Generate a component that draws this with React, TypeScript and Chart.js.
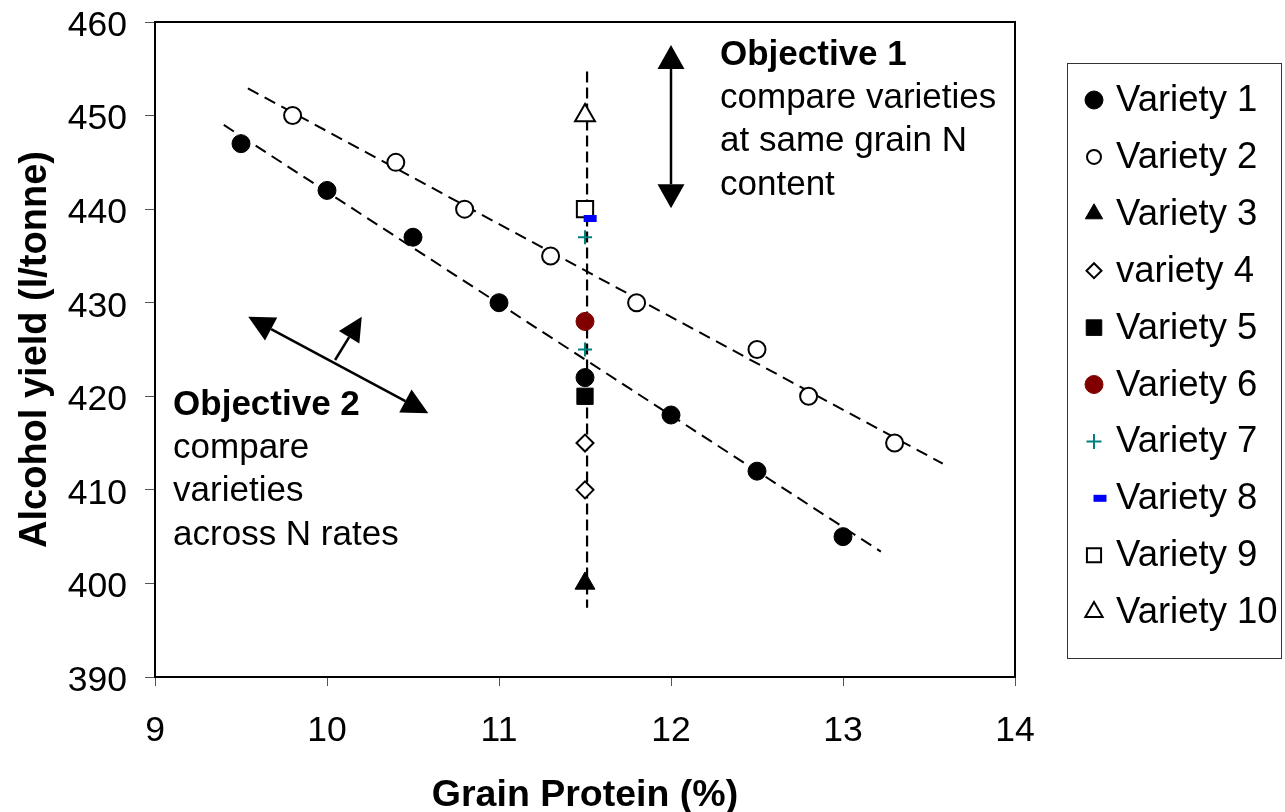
import React, { useEffect, useRef } from 'react';
import { Chart, registerables } from 'chart.js';
import { drawPoint } from 'chart.js/helpers';

Chart.register(...registerables);

const FONT = "'Liberation Sans', Arial, Helvetica, sans-serif";

// ---- data ----
const variety1X = [9.5, 10, 10.5, 11, 11.5, 12, 12.5, 13];
const variety1Y = [447, 442, 437, 430, 422, 418, 412, 405];
const variety2X = [9.8, 10.4, 10.8, 11.3, 11.8, 12.5, 12.8, 13.3];
const variety2Y = [450, 445, 440, 435, 430, 425, 420, 415];
const variety3X = [11.5];
const variety3Y = [400];
const variety4X = [11.5, 11.5];
const variety4Y = [415, 410];
const variety5X = [11.5];
const variety5Y = [420];
const variety6X = [11.5];
const variety6Y = [428];
const variety7X = [11.5, 11.5];
const variety7Y = [437, 425];
const variety8X = [11.53];
const variety8Y = [439];
const variety9X = [11.5];
const variety9Y = [440];
const variety10X = [11.5];
const variety10Y = [450];

const trend1X = [9.4, 13.22];
const trend1Y = [449.0, 403.4];
const trend2X = [9.54, 13.58];
const trend2Y = [452.9, 412.8];
const sameNX = [11.512, 11.512];
const sameNY = [454.7, 397.4];

const xTicks = [9, 10, 11, 12, 13, 14];
const yTicks = [390, 400, 410, 420, 430, 440, 450, 460];

const legendLabels = [
  'Variety 1', 'Variety 2', 'Variety 3', 'variety 4', 'Variety 5',
  'Variety 6', 'Variety 7', 'Variety 8', 'Variety 9', 'Variety 10',
];

const objective1Lines = ['Objective 1', 'compare varieties', 'at same grain N', 'content'];
const objective2Lines = ['Objective 2', 'compare', 'varieties', 'across N rates'];

// annotation anchors in data units
const obj1Arrow = { x1: 12.0, y1: 457.55, x2: 12.0, y2: 440.1 };
const obj2Arrow = { x1: 9.542, y1: 428.5, x2: 10.589, y2: 418.18 };
const obj2SmallArrow = { x1: 10.047, y1: 423.88, x2: 10.202, y2: 428.5 };
const obj1Text = { x: 12.285, y: 456.47 };
const obj2Text = { x: 9.105, y: 419.07 };

const zip = (xs: number[], ys: number[]) => xs.map((x, i) => ({ x, y: ys[i] }));

type PS = { style: string; radius: number; legendRadius: number; fill: string; stroke: string; width: number };
const styles: PS[] = [
  { style: 'circle', radius: 9, legendRadius: 9, fill: '#000', stroke: '#000', width: 1 },
  { style: 'circle', radius: 8.5, legendRadius: 7, fill: '#fff', stroke: '#000', width: 2 },
  { style: 'triangle', radius: 11.5, legendRadius: 10, fill: '#000', stroke: '#000', width: 1 },
  { style: 'rectRot', radius: 8.5, legendRadius: 7.5, fill: '#fff', stroke: '#000', width: 2 },
  { style: 'rect', radius: 11.5, legendRadius: 11, fill: '#000', stroke: '#000', width: 1 },
  { style: 'circle', radius: 9, legendRadius: 9, fill: '#800000', stroke: '#800000', width: 1 },
  { style: 'cross', radius: 7, legendRadius: 7.5, fill: '#008080', stroke: '#008080', width: 2 },
  { style: 'line', radius: 6.5, legendRadius: 6.5, fill: '#0000ff', stroke: '#0000ff', width: 7 },
  { style: 'rect', radius: 11.5, legendRadius: 10, fill: '#fff', stroke: '#000', width: 2 },
  { style: 'triangle', radius: 11.5, legendRadius: 10, fill: '#fff', stroke: '#000', width: 2 },
];

const seriesData = [
  zip(variety1X, variety1Y), zip(variety2X, variety2Y), zip(variety3X, variety3Y),
  zip(variety4X, variety4Y), zip(variety5X, variety5Y), zip(variety6X, variety6Y),
  zip(variety7X, variety7Y), zip(variety8X, variety8Y), zip(variety9X, variety9Y),
  zip(variety10X, variety10Y),
];

function arrowHead(ctx: CanvasRenderingContext2D, tx: number, ty: number, fx: number, fy: number, len: number, w: number) {
  const a = Math.atan2(ty - fy, tx - fx);
  const bx = tx - Math.cos(a) * len;
  const by = ty - Math.sin(a) * len;
  const px = -Math.sin(a) * w / 2;
  const py = Math.cos(a) * w / 2;
  ctx.beginPath();
  ctx.moveTo(tx, ty);
  ctx.lineTo(bx + px, by + py);
  ctx.lineTo(bx - px, by - py);
  ctx.closePath();
  ctx.fill();
  return { bx, by };
}

function drawArrow(ctx: CanvasRenderingContext2D, x1: number, y1: number, x2: number, y2: number, both: boolean, len = 24, w = 26) {
  ctx.save();
  ctx.fillStyle = '#000';
  ctx.strokeStyle = '#000';
  ctx.lineWidth = 2.5;
  const end = arrowHead(ctx, x2, y2, x1, y1, len, w);
  let sx = x1, sy = y1;
  if (both) {
    const s = arrowHead(ctx, x1, y1, x2, y2, len, w);
    sx = s.bx; sy = s.by;
  }
  ctx.beginPath();
  ctx.moveTo(sx, sy);
  ctx.lineTo(end.bx, end.by);
  ctx.stroke();
  ctx.restore();
}

const overlayPlugin = {
  id: 'overlay',
  afterDraw(chart: any) {
    const { ctx, chartArea, scales } = chart;
    const xs = scales.x, ys = scales.y;
    // top & right frame
    ctx.save();
    ctx.strokeStyle = '#000';
    ctx.lineWidth = 2;
    ctx.beginPath();
    ctx.moveTo(chartArea.left, chartArea.top);
    ctx.lineTo(chartArea.right, chartArea.top);
    ctx.lineTo(chartArea.right, chartArea.bottom);
    ctx.stroke();
    ctx.restore();

    // arrows
    const P = (x: number, y: number) => [xs.getPixelForValue(x), ys.getPixelForValue(y)];
    let [a, b] = P(obj1Arrow.x1, obj1Arrow.y1);
    let [c, d] = P(obj1Arrow.x2, obj1Arrow.y2);
    drawArrow(ctx, a, b, c, d, true, 24, 27);
    [a, b] = P(obj2Arrow.x1, obj2Arrow.y1);
    [c, d] = P(obj2Arrow.x2, obj2Arrow.y2);
    drawArrow(ctx, a, b, c, d, true, 26, 26);
    [a, b] = P(obj2SmallArrow.x1, obj2SmallArrow.y1);
    [c, d] = P(obj2SmallArrow.x2, obj2SmallArrow.y2);
    drawArrow(ctx, a, b, c, d, false, 24, 24);

    // texts
    const lineH = 43.3;
    const drawLines = (lines: string[], x: number, y: number) => {
      const [px, py] = P(x, y);
      ctx.save();
      ctx.fillStyle = '#000';
      ctx.textAlign = 'left';
      ctx.textBaseline = 'middle';
      lines.forEach((t, i) => {
        ctx.font = `${i === 0 ? 'bold ' : ''}35px ${FONT}`;
        ctx.fillText(t, px, py + i * lineH);
      });
      ctx.restore();
    };
    drawLines(objective1Lines, obj1Text.x, obj1Text.y);
    drawLines(objective2Lines, obj2Text.x, obj2Text.y);

    // legend
    ctx.save();
    ctx.strokeStyle = '#333';
    ctx.lineWidth = 1;
    ctx.strokeRect(1067.5, 63.5, 214, 595);
    ctx.font = `36.5px ${FONT}`;
    ctx.textAlign = 'left';
    ctx.textBaseline = 'middle';
    legendLabels.forEach((label, i) => {
      const y = 100 + i * 56.9;
      const s = styles[i];
      ctx.save();
      ctx.fillStyle = s.fill;
      ctx.strokeStyle = s.stroke;
      ctx.lineWidth = s.width;
      drawPoint(ctx, { pointStyle: s.style as any, radius: s.legendRadius, rotation: 0, borderWidth: s.width } as any, i === 7 ? 1100 : 1094, y);
      ctx.restore();
      ctx.fillStyle = '#000';
      ctx.fillText(label, 1116, y + 1);
    });
    ctx.restore();
  },
};

export default function App() {
  const ref = useRef<HTMLCanvasElement | null>(null);
  useEffect(() => {
    if (!ref.current) return;
    const lineDs = (xs: number[], ys: number[]) => ({
      type: 'line' as const,
      data: zip(xs, ys),
      showLine: true,
      borderColor: '#000',
      borderWidth: 2,
      borderDash: [12, 7],
      pointRadius: 0,
      fill: false,
      order: 10,
    });
    const pointDs = seriesData.map((data, i) => ({
      label: legendLabels[i],
      data,
      pointStyle: styles[i].style,
      pointRadius: styles[i].radius,
      backgroundColor: styles[i].fill,
      borderColor: styles[i].stroke,
      borderWidth: styles[i].width,
      pointBorderWidth: styles[i].width,
      showLine: false,
      order: 0,
    }));
    const chart = new Chart(ref.current, {
      type: 'scatter',
      data: {
        datasets: [
          lineDs(trend1X, trend1Y),
          lineDs(trend2X, trend2Y),
          { ...lineDs(sameNX, sameNY), borderDash: [11, 5], borderWidth: 2.2 },
          ...pointDs,
        ] as any,
      },
      options: {
        animation: false,
        responsive: false,
        devicePixelRatio: 1,
        layout: { padding: { top: 22, right: 270, bottom: 0, left: 0 } },
        plugins: { legend: { display: false }, tooltip: { enabled: false } },
        scales: {
          x: {
            type: 'linear',
            min: 9,
            max: 14,
            afterBuildTicks: (s: any) => { s.ticks = xTicks.map((v) => ({ value: v })); },
            afterFit: (s: any) => { s.height = 135; s.paddingLeft = 0; s.paddingRight = 0; },
            ticks: { color: '#000', font: { family: FONT, size: 35.5 }, padding: 24 },
            grid: { drawOnChartArea: false, drawTicks: true, tickLength: 9, tickColor: '#555', tickWidth: 1 },
            border: { display: true, color: '#000', width: 2 },
            title: { display: true, text: 'Grain Protein (%)', color: '#000', font: { family: FONT, size: 37.5, weight: 'bold', lineHeight: 0.85 }, padding: { top: 0, bottom: 0 } },
          },
          y: {
            type: 'linear',
            min: 390,
            max: 460,
            afterBuildTicks: (s: any) => { s.ticks = yTicks.map((v) => ({ value: v })); },
            afterFit: (s: any) => { s.width = 155; s.paddingTop = 0; s.paddingBottom = 0; },
            ticks: { color: '#000', font: { family: FONT, size: 35.5 }, padding: 18, labelOffset: 4 },
            grid: { drawOnChartArea: false, drawTicks: true, tickLength: 10, tickColor: '#555', tickWidth: 1 },
            border: { display: true, color: '#000', width: 2 },
            title: { display: true, text: 'Alcohol yield (l/tonne)', color: '#000', font: { family: FONT, size: 38, weight: 'bold' }, padding: { top: 13, bottom: 0 } },
          },
        },
      } as any,
      plugins: [overlayPlugin],
    });
    return () => chart.destroy();
  }, []);
  return (
    <div style={{ position: 'absolute', left: 0, top: 0, width: 1285, height: 812, background: '#fff' }}>
      <canvas ref={ref} width={1285} height={812} style={{ display: 'block' }} />
    </div>
  );
}
